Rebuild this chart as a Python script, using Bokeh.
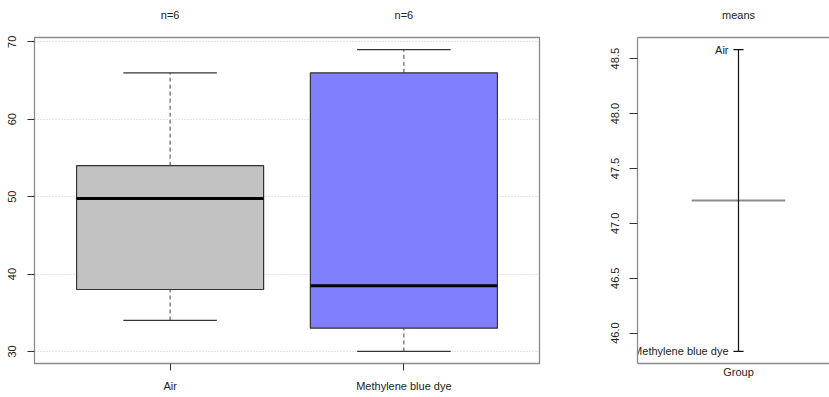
from bokeh.plotting import figure
from bokeh.models import Range1d, FixedTicker, LinearAxis, PrintfTickFormatter
from bokeh.layouts import row
from bokeh.embed import file_html
from bokeh.resources import INLINE
from bokeh.core.properties import value

# ---- data ----
groups = ["Air", "Methylene blue dye"]
n_obs = [6, 6]
whisker_low = [34, 30]
q1 = [38, 33]
medians = [49.75, 38.5]
q3 = [54, 66]
whisker_high = [66, 69]
group_means = [48.583, 45.833]
box_colors = ["#c2c2c2", "#8080ff"]
left_ticks = [30, 40, 50, 60, 70]
right_ticks = [46.0, 46.5, 47.0, 47.5, 48.0, 48.5]

FONT = "Liberation Sans"
FS = "11px"
FRAME = "#8a8a8a"
TXT = "#222222"

xs = list(range(1, len(groups) + 1))


def pad(lo, hi, f=0.04):
    d = (hi - lo) * f
    return lo - d, hi + d


# ---------------- left: box plots ----------------
ylo, yhi = pad(min(whisker_low), max(whisker_high))
xlo, xhi = pad(0.5, len(groups) + 0.5)

p1 = figure(frame_width=505, frame_height=326,
            x_range=Range1d(xlo, xhi), y_range=Range1d(ylo, yhi),
            output_backend="svg", toolbar_location=None,
            min_border_left=34, min_border_right=41,
            min_border_top=37, min_border_bottom=34)
p1.outline_line_color = FRAME
p1.outline_line_width = 1.3
p1.background_fill_color = "white"
p1.border_fill_color = "white"
p1.xgrid.visible = False
p1.ygrid.ticker = FixedTicker(ticks=left_ticks)
p1.ygrid.grid_line_color = "#c8c8c8"
p1.ygrid.grid_line_dash = "1 2"

xa = p1.xaxis[0]
xa.ticker = FixedTicker(ticks=xs)
xa.major_label_overrides = {x: g for x, g in zip(xs, groups)}
xa.major_tick_out = 7
xa.major_tick_in = 0
xa.minor_tick_out = 0
xa.minor_tick_in = 0
xa.major_label_standoff = 9
xa.axis_line_color = None
xa.major_tick_line_color = "#333333"

ya = p1.yaxis[0]
ya.ticker = FixedTicker(ticks=left_ticks)
ya.major_label_orientation = "vertical"
ya.major_tick_out = 7
ya.major_tick_in = 0
ya.minor_tick_out = 0
ya.minor_tick_in = 0
ya.major_label_standoff = 11
ya.axis_line_color = None
ya.major_tick_line_color = "#333333"

top1 = LinearAxis(ticker=FixedTicker(ticks=xs),
                  major_label_overrides={x: f"n={n}" for x, n in zip(xs, n_obs)},
                  major_tick_out=0, major_tick_in=0, minor_tick_out=0, minor_tick_in=0,
                  axis_line_color=None, major_label_standoff=17)
p1.add_layout(top1, "above")

for ax in (xa, ya, top1):
    ax.major_label_text_font = FONT
    ax.major_label_text_font_size = FS
    ax.major_label_text_color = TXT

box_w = 0.8
cap_w = box_w / 2
# whiskers
p1.segment(x0=xs, x1=xs, y0=q3, y1=whisker_high, line_color="#444444", line_dash="4 3", line_width=1)
p1.segment(x0=xs, x1=xs, y0=whisker_low, y1=q1, line_color="#444444", line_dash="4 3", line_width=1)
# caps
p1.segment(x0=[x - cap_w / 2 for x in xs], x1=[x + cap_w / 2 for x in xs],
           y0=whisker_high, y1=whisker_high, line_color="#333333", line_width=1.2)
p1.segment(x0=[x - cap_w / 2 for x in xs], x1=[x + cap_w / 2 for x in xs],
           y0=whisker_low, y1=whisker_low, line_color="#333333", line_width=1.2)
# boxes
p1.vbar(x=xs, width=box_w, bottom=q1, top=q3, fill_color=box_colors,
        line_color="#333333", line_width=1.2)
# medians
p1.segment(x0=[x - box_w / 2 for x in xs], x1=[x + box_w / 2 for x in xs],
           y0=medians, y1=medians, line_color="black", line_width=3)

# ---------------- right: means ----------------
mlo, mhi = pad(min(group_means), max(group_means))
rx_lo, rx_hi = pad(0.5, 1.5)
frame_w2 = 192
full_w2 = 202
rx_hi_vis = rx_lo + (rx_hi - rx_lo) * frame_w2 / full_w2

p2 = figure(frame_width=frame_w2, frame_height=326,
            x_range=Range1d(rx_lo, rx_hi_vis), y_range=Range1d(mlo, mhi),
            output_backend="svg", toolbar_location=None,
            min_border_left=57, min_border_right=0,
            min_border_top=37, min_border_bottom=34)
p2.outline_line_color = None
p2.xgrid.visible = False
p2.ygrid.visible = False

ya2 = p2.yaxis[0]
ya2.ticker = FixedTicker(ticks=right_ticks)
ya2.formatter = PrintfTickFormatter(format="%.1f")
ya2.major_label_orientation = "vertical"
ya2.major_tick_out = 8
ya2.major_tick_in = 0
ya2.minor_tick_out = 0
ya2.minor_tick_in = 0
ya2.major_label_standoff = 10
ya2.axis_line_color = FRAME
ya2.axis_line_width = 1.3
ya2.major_tick_line_color = "#333333"

xa2 = p2.xaxis[0]
xa2.ticker = FixedTicker(ticks=[1])
xa2.major_label_overrides = {1: "Group"}
xa2.major_tick_out = 0
xa2.major_tick_in = 0
xa2.minor_tick_out = 0
xa2.minor_tick_in = 0
xa2.major_label_standoff = 2
xa2.axis_line_color = FRAME
xa2.axis_line_width = 1.3

top2 = LinearAxis(ticker=FixedTicker(ticks=[1]), major_label_overrides={1: "means"},
                  major_tick_out=0, major_tick_in=0, minor_tick_out=0, minor_tick_in=0,
                  axis_line_color=FRAME, axis_line_width=1.3, major_label_standoff=17)
p2.add_layout(top2, "above")

for ax in (xa2, ya2, top2):
    ax.major_label_text_font = FONT
    ax.major_label_text_font_size = FS
    ax.major_label_text_color = TXT

grand_mean = sum(m * n for m, n in zip(group_means, n_obs)) / sum(n_obs)
half_grand = 0.25
tick_half = 0.027
p2.segment(x0=[1 - half_grand], x1=[1 + half_grand], y0=[grand_mean], y1=[grand_mean],
           line_color="#8c8c8c", line_width=2)
p2.segment(x0=[1], x1=[1], y0=[min(group_means)], y1=[max(group_means)],
           line_color="#111111", line_width=1.2)
p2.segment(x0=[1 - tick_half] * len(group_means), x1=[1 + tick_half] * len(group_means),
           y0=group_means, y1=group_means, line_color="#111111", line_width=1.2)
p2.text(x=[1] * len(groups), y=group_means, text=groups, x_offset=-10,
        text_align="right", text_baseline="middle",
        text_font=value(FONT), text_font_size=FS, text_color=TXT)

layout = row(p1, p2, spacing=0)
open("out.html", "w").write(file_html(layout, INLINE))
